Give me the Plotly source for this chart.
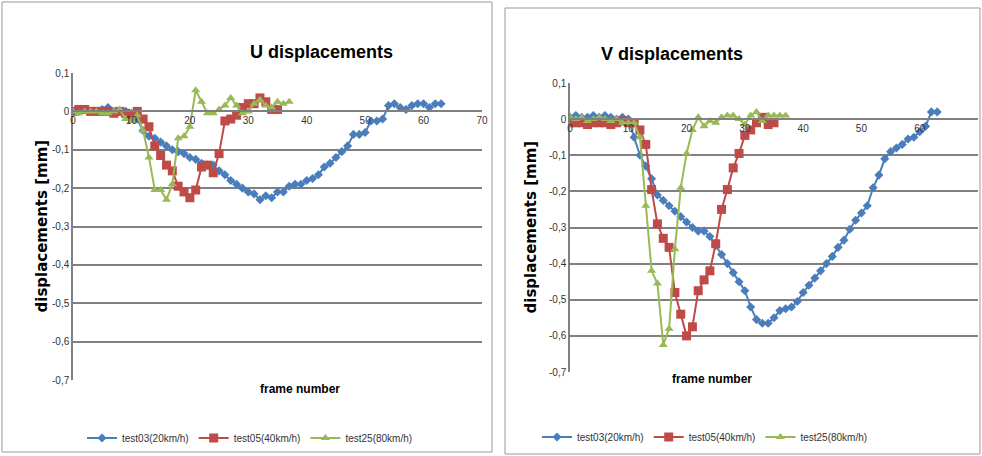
import plotly.graph_objects as go

# U displacements
u_test03 = [0, 0, 0.005, 0, 0, 0.005, 0.01, 0, 0, 0, -0.005, -0.02, -0.05, -0.065, -0.07, -0.08, -0.09, -0.1,
            -0.105, -0.11, -0.12, -0.125, -0.135, -0.14, -0.14, -0.155, -0.165, -0.18, -0.19, -0.2, -0.21, -0.215,
            -0.23, -0.22, -0.225, -0.21, -0.21, -0.195, -0.19, -0.19, -0.18, -0.175, -0.165, -0.145, -0.135, -0.12,
            -0.105, -0.09, -0.06, -0.06, -0.055, -0.025, -0.025, -0.02, 0.015, 0.02, 0.01, 0.005, 0.015, 0.02, 0.02,
            0.01, 0.02, 0.02]
u_test05 = [0, 0.005, 0.005, 0, 0, 0, 0, -0.005, 0, -0.005, -0.01, 0, -0.02, -0.04, -0.09, -0.115, -0.14, -0.155,
            -0.195, -0.21, -0.225, -0.205, -0.145, -0.14, -0.16, -0.11, -0.025, -0.02, -0.01, 0.01, 0.02, 0.02,
            0.035, 0.025, 0.005, 0.005]
u_test25 = [0, -0.005, 0, 0, 0, -0.005, -0.005, 0, 0.005, -0.02, -0.025, -0.01, -0.05, -0.12, -0.205, -0.205, -0.23,
            -0.19, -0.07, -0.065, -0.04, 0.055, 0.025, -0.005, -0.005, 0.005, 0.015, 0.035, 0.015, -0.005, 0, 0.02,
            0.03, 0.015, 0.01, 0.025, 0.02, 0.025]

# V displacements
v_test03 = [0.005, 0.01, 0.005, 0.005, 0.01, 0.005, 0.01, 0.005, 0, 0.005, 0, -0.05, -0.1, -0.13, -0.165, -0.21,
            -0.225, -0.24, -0.255, -0.27, -0.285, -0.3, -0.31, -0.31, -0.325, -0.35, -0.375, -0.4, -0.425, -0.45,
            -0.475, -0.52, -0.555, -0.565, -0.565, -0.55, -0.53, -0.525, -0.52, -0.505, -0.48, -0.46, -0.44, -0.42,
            -0.4, -0.38, -0.355, -0.335, -0.305, -0.28, -0.26, -0.24, -0.19, -0.155, -0.11, -0.09, -0.08, -0.07,
            -0.055, -0.05, -0.035, -0.02, 0.02, 0.02]
v_test05 = [-0.01, -0.01, -0.01, -0.015, -0.01, -0.01, -0.01, -0.015, -0.01, -0.005, -0.01, -0.01, -0.03, -0.07,
            -0.195, -0.29, -0.33, -0.355, -0.48, -0.54, -0.6, -0.575, -0.475, -0.445, -0.42, -0.345, -0.25, -0.195,
            -0.135, -0.095, -0.045, -0.03, -0.01, 0.005, -0.015, -0.01]
v_test25 = [0.005, 0, 0.005, -0.005, 0, 0.005, 0, -0.005, 0, -0.01, -0.01, -0.01, -0.05, -0.24, -0.42, -0.455,
            -0.625, -0.58, -0.36, -0.19, -0.095, -0.03, 0.005, -0.02, -0.005, -0.01, 0.005, 0.01, 0.01, 0, -0.015,
            0.01, 0.02, -0.005, 0.01, 0.01, 0.01, 0.01]

names = ['test03(20km/h)', 'test05(40km/h)', 'test25(80km/h)']
colors = ['#4A7EBB', '#BE4B48', '#98B954']
symbols = ['diamond', 'square', 'triangle-up']
sizes = [7, 9, 8]
y_ticks = [0.1, 0, -0.1, -0.2, -0.3, -0.4, -0.5, -0.6, -0.7]
y_labels = ['0,1', '0', '-0,1', '-0,2', '-0,3', '-0,4', '-0,5', '-0,6', '-0,7']
x_ticks = [0, 10, 20, 30, 40, 50, 60, 70]

W, H = 982, 456
panels = [
    dict(data=[u_test03, u_test05, u_test25], title='U displacements', px=(73, 482), py=(73, 380),
         box=(2, 492, 2, 452), title_y=40, xlab_y=398, leg_y=438, leg_x=250, ytitle_x=30),
    dict(data=[v_test03, v_test05, v_test25], title='V displacements', px=(570, 978), py=(83, 372),
         box=(505, 980, 8, 454), title_y=42, xlab_y=388, leg_y=437, leg_x=705, ytitle_x=530),
]

fig = go.Figure()
for i, p in enumerate(panels):
    sfx = '' if i == 0 else '2'
    leg = 'legend' if i == 0 else 'legend2'
    for k, ys in enumerate(p['data']):
        fig.add_trace(go.Scatter(
            x=list(range(len(ys))), y=ys, name=names[k], mode='lines+markers',
            line=dict(color=colors[k], width=2),
            marker=dict(symbol=symbols[k], size=sizes[k], color=colors[k]),
            xaxis='x' + sfx, yaxis='y' + sfx, legend=leg))
    x0, x1 = p['px'][0] / W, p['px'][1] / W
    y0, y1 = 1 - p['py'][1] / H, 1 - p['py'][0] / H
    zero_pos = y0 + 0.7 / 0.8 * (y1 - y0)
    fig.layout['xaxis' + sfx] = dict(domain=[x0, x1], range=[0, 70], tickvals=x_ticks, anchor='free',
                                     position=zero_pos, showline=True, linecolor='#808080', linewidth=1.5,
                                     showgrid=False, zeroline=False, ticks='', automargin=False,
                                     tickfont=dict(size=10, color='#333'))
    fig.layout['yaxis' + sfx] = dict(domain=[y0, y1], range=[-0.7, 0.1], tickvals=y_ticks, ticktext=y_labels,
                                     anchor='x' + sfx, showline=True, linecolor='#808080', linewidth=1.5,
                                     showgrid=True, gridcolor='#808080', gridwidth=1.5, zeroline=False,
                                     automargin=False, tickfont=dict(size=10, color='#333'))
    bx0, bx1, by0, by1 = p['box']
    fig.add_shape(type='rect', xref='paper', yref='paper', x0=bx0 / W, x1=bx1 / W, y0=1 - by1 / H,
                  y1=1 - by0 / H, line=dict(color='#999', width=1))
    fig.add_annotation(text='<b>' + p['title'] + '</b>', xref='paper', yref='paper', x=(x0 + x1) / 2 - 0.03,
                       y=1 - p['title_y'] / H, showarrow=False,
                       font=dict(size=18, color='black', family='Liberation Sans'))
    fig.add_annotation(text='<b>frame number</b>', xref='paper', yref='paper', x=(x0 + x1) / 2 - 0.02,
                       y=1 - p['xlab_y'] / H, showarrow=False, font=dict(size=12, color='black'))
    fig.add_annotation(text='<b>displacements [mm]</b>', xref='paper', yref='paper', x=p['ytitle_x'] / W,
                       y=(y0 + y1) / 2, textangle=-90, showarrow=False,
                       font=dict(size=15, color='black', family='DejaVu Sans'))
    fig.layout[leg] = dict(orientation='h', x=p['leg_x'] / W, y=1 - p['leg_y'] / H, xanchor='center',
                           yanchor='middle', font=dict(size=10, color='#333'), bgcolor='rgba(0,0,0,0)')

fig.update_layout(width=W, height=H, margin=dict(l=0, r=0, t=0, b=0, autoexpand=False), plot_bgcolor='white',
                  paper_bgcolor='white', font=dict(family='Liberation Sans'),
                  showlegend=True)
fig.write_html('out.html', config={'displayModeBar': False}, post_script="document.body.style.margin='0';")
